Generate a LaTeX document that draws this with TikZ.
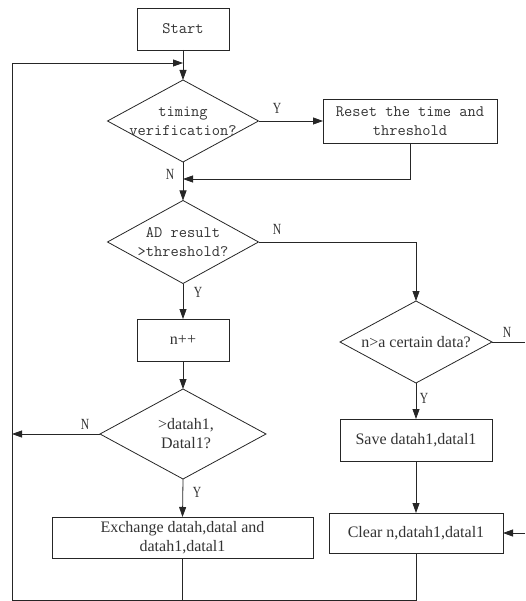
\documentclass[tikz,border=0pt]{standalone}
\usepackage{fontspec}
\setmainfont{Liberation Serif}
\newfontfamily\ynfont[FakeStretch=0.75]{Liberation Serif}
\usetikzlibrary{shapes.geometric,arrows.meta}
\begin{document}
\begin{tikzpicture}[x=1pt,y=-1pt,line width=0.8pt,
	every node/.style={text=black!80},
	box/.style={draw=black!85,rectangle,outer sep=0pt,align=center,minimum height=42pt},
	decision/.style={draw=black!85,diamond,inner sep=0pt,outer sep=0pt},
	mono/.style={font=\ttfamily\fontsize{16}{19}\selectfont,align=center,inner sep=0pt},
	roman/.style={font=\fontsize{16}{19}\selectfont,align=center},
	yn/.style={font=\ynfont\fontsize{15.5}{15.5}\selectfont,inner sep=0pt},
	arr/.style={draw=black!85,-{Triangle[length=10pt,width=7pt]}},
	link/.style={draw=black!85}]
			\useasboundingbox (0,0) rectangle (525,601);
			%left column
			\node[box,mono,minimum width=92pt] (start) at (183,29) {Start};
			\node[decision,minimum width=151pt,minimum height=82pt] (timing) at (183,121) {};
			\node[mono] (timingtxt) at (timing) {timing\\verification?};
			\node[decision,minimum width=151pt,minimum height=83pt] (ad) at (183,242) {};
			\node[mono] (adtxt) at (ad) {AD result\\>threshold?};
			\node[box,roman,minimum width=92pt] (npp) at (183,340) {n++};
			\node[decision,minimum width=166pt,minimum height=90pt] (cmp) at (183,434) {};
			\node[roman,inner sep=0pt] (cmptxt) at (186,434) {>datah1,\\Datal1?};
			\node[box,roman,minimum width=261pt,minimum height=41pt] (exch) at (182.5,537.5) {Exchange datah,datal and\\datah1,datal1};
			%right column
			\node[box,mono,minimum width=174pt,minimum height=44pt] (reset) at (410,121) {Reset the time and\\threshold};
			\node[decision,minimum width=152pt,minimum height=82pt] (cert) at (416,342) {};
			\node[roman,inner sep=0pt] (certtxt) at (cert) {n>a certain data?};
			\node[box,roman,minimum width=152pt] (save) at (416,440) {Save datah1,datal1};
			\node[box,roman,minimum width=174pt,minimum height=40pt] (clear) at (416,533) {Clear n,datah1,datal1};
			%points for the lines
			\coordinate (loopin) at (183,63);
			\coordinate (looptl) at (12,63);
			\coordinate (loopbl) at (12,600);
			\coordinate (merge) at (183,179);
			\coordinate (toleft) at (12,434);
			\coordinate (redgeout) at (525,342);
			\coordinate (redgein) at (525,533);
			%connectors
			\draw[arr] (start.south) -- (timing.north);
			\draw[arr] (timing.east) -- (reset.west);
			\draw[arr] (reset.south) -- (reset.south |- merge) -- (merge);
			\draw[arr] (timing.south) -- (ad.north);
			\draw[arr] (ad.east) -| (cert.north);
			\draw[arr] (ad.south) -- (npp.north);
			\draw[arr] (npp.south) -- (cmp.north);
			\draw[arr] (cmp.west) -- (toleft);
			\draw[arr] (cmp.south) -- (exch.north);
			\draw[arr] (cert.south) -- (save.north);
			\draw[arr] (save.south) -- (clear.north);
			\draw[link] (cert.east) -- (redgeout);
			\draw[arr] (redgein) -- (clear.east);
			\draw[link] (exch.south) -- (exch.south |- loopbl);
			\draw[arr] (clear.south) -- (clear.south |- loopbl) -- (loopbl) -- (looptl) -- (loopin);
			%Y and N
			\node[yn] (y1) at (277,108) {Y};
			\node[yn] (n1) at (170,174) {N};
			\node[yn] (n2) at (277,229) {N};
			\node[yn] (y2) at (198,292) {Y};
			\node[yn] (n3) at (507,332) {N};
			\node[yn] (y3) at (424,398) {Y};
			\node[yn] (n4) at (85,424) {N};
			\node[yn] (y4) at (197,492) {Y};
		\end{tikzpicture}
\end{document}
